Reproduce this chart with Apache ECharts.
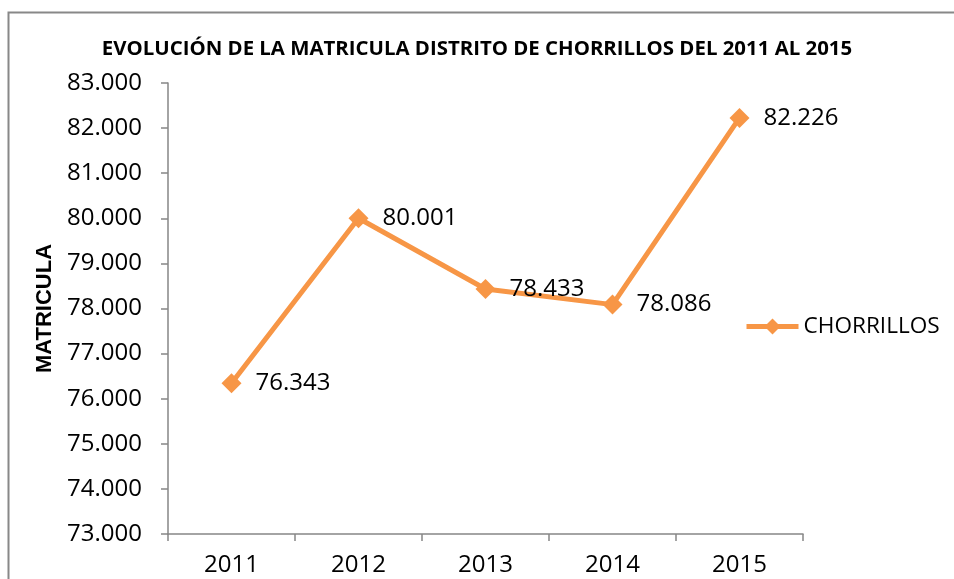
<!DOCTYPE html>
<html><head><meta charset="utf-8">
<script src="https://cdn.jsdelivr.net/npm/echarts@6/dist/echarts.min.js"></script>
<style>html,body{margin:0;padding:0;background:#fff}#c{width:954px;height:579px}</style>
</head><body><div id="c"></div>
<script>
var categories = ['2011', '2012', '2013', '2014', '2015'];
var matricula = [76343, 80001, 78433, 78086, 82226];
var seriesName = 'CHORRILLOS';
var titleText = 'EVOLUCIÓN DE LA MATRICULA DISTRITO DE CHORRILLOS DEL 2011 AL 2015';
var yAxisName = 'MATRICULA';
var yMin = 73000, yMax = 83000, yStep = 1000;

function fmt(v) { return (v / 1000).toFixed(3); }

var chart = echarts.init(document.getElementById('c'), null, {renderer: 'canvas'});
var font = 'Open Sans';
chart.setOption({
  animation: false,
  backgroundColor: '#fff',
  graphic: [{
    type: 'rect', left: 6, top: 10, z: -1,
    shape: {width: 1000, height: 1000},
    style: {fill: 'none', stroke: '#888', lineWidth: 2}
  }],
  title: {
    text: titleText, left: 'center', top: 34,
    textStyle: {fontFamily: font, fontWeight: 'bold', fontSize: 20.4, color: '#000'}
  },
  legend: {
    left: 739, top: 310, itemWidth: 52, itemHeight: 20, itemGap: 4,
    data: [{name: seriesName}],
    lineStyle: {width: 5, color: '#F79646'},
    itemStyle: {color: '#F79646'},
    textStyle: {fontFamily: font, fontSize: 22.6, color: '#000'}
  },
  grid: {left: 168, right: 151, top: 83, bottom: 45},
  xAxis: {
    type: 'category', data: categories, boundaryGap: true,
    axisLine: {lineStyle: {color: '#868686', width: 1.5}},
    axisTick: {show: true, alignWithLabel: false, length: 7, lineStyle: {color: '#868686', width: 1.5}},
    axisLabel: {fontFamily: font, fontSize: 24, color: '#000', margin: 19}
  },
  yAxis: {
    type: 'value', min: yMin, max: yMax, interval: yStep,
    name: yAxisName, nameLocation: 'middle', nameGap: 112, nameRotate: 90,
    nameTextStyle: {fontFamily: 'Liberation Sans', fontWeight: 'bold', fontSize: 22, color: '#000'},
    axisLine: {show: true, lineStyle: {color: '#868686', width: 1.5}},
    axisTick: {show: true, length: 7, lineStyle: {color: '#868686', width: 1.5}},
    splitLine: {show: false},
    axisLabel: {fontFamily: font, fontSize: 24, color: '#000', margin: 26, formatter: fmt}
  },
  series: [{
    name: seriesName, type: 'line', data: matricula,
    symbol: 'diamond', symbolSize: 20,
    lineStyle: {color: '#F79646', width: 5},
    itemStyle: {color: '#F79646'},
    label: {show: true, position: 'right', distance: 14, fontFamily: font, fontSize: 24, color: '#000', formatter: function(p){return fmt(p.value);}}
  }]
});
</script></body></html>
